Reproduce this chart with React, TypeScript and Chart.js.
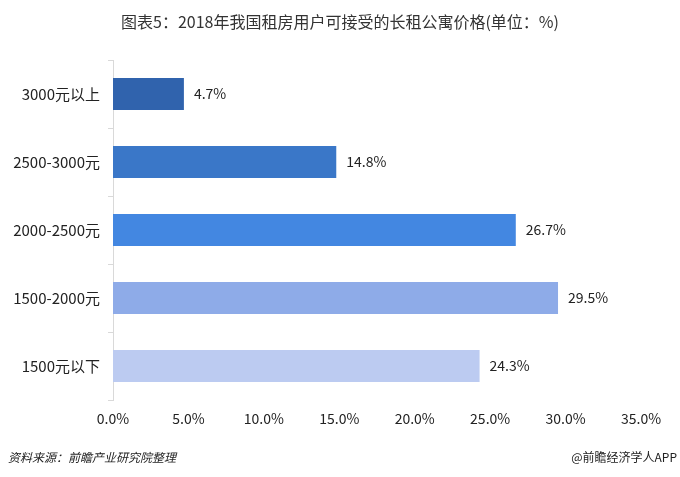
import React, { useEffect, useRef } from "react";
import { Chart, registerables } from "chart.js";

Chart.register(...registerables);

const categories = ["3000元以上", "2500-3000元", "2000-2500元", "1500-2000元", "1500元以下"];
const values = [4.7, 14.8, 26.7, 29.5, 24.3];
const barColors = ["#3063ad", "#3a77c8", "#4387e1", "#8eabe8", "#bccbf1"];
const xTicks = [0, 5, 10, 15, 20, 25, 30, 35];
const titleText = "图表5：2018年我国租房用户可接受的长租公寓价格(单位：%)";
const sourceText = "资料来源：前瞻产业研究院整理";
const brandText = "@前瞻经济学人APP";

const FONT = "'Noto Sans CJK SC', 'Microsoft YaHei', sans-serif";

export default function App() {
  const ref = useRef<HTMLCanvasElement>(null);
  useEffect(() => {
    const canvas = ref.current!;
    const extras = {
      id: "extras",
      afterDatasetsDraw(chart: any) {
        const ctx = chart.ctx;
        const meta = chart.getDatasetMeta(0);
        ctx.save();
        ctx.font = `14px ${FONT}`;
        ctx.fillStyle = "#222";
        ctx.textAlign = "left";
        ctx.textBaseline = "middle";
        meta.data.forEach((bar: any, i: number) => {
          ctx.fillText(values[i].toFixed(1) + "%", bar.x + 10, bar.y);
        });
        ctx.restore();
      },
      afterDraw(chart: any) {
        const ctx = chart.ctx;
        ctx.save();
        ctx.fillStyle = "#333";
        ctx.font = `16px ${FONT}`;
        ctx.textAlign = "center";
        ctx.textBaseline = "middle";
        ctx.fillText(titleText, 340, 22);
        ctx.font = `italic 12px ${FONT}`;
        ctx.textAlign = "left";
        ctx.fillStyle = "#222";
        ctx.fillText(sourceText, 8, 457);
        ctx.font = `12px ${FONT}`;
        ctx.textAlign = "right";
        ctx.fillText(brandText, 677, 457);
        ctx.restore();
      },
    };
    const chart = new Chart(canvas, {
      type: "bar",
      data: {
        labels: categories,
        datasets: [
          {
            data: values,
            backgroundColor: barColors,
            borderWidth: 0,
            barPercentage: 0.47,
            categoryPercentage: 1,
          },
        ],
      },
      options: {
        indexAxis: "y",
        responsive: false,
        animation: false,
        events: [],
        layout: { padding: { top: 60, bottom: 47, left: 0, right: 39 } },
        plugins: { legend: { display: false }, tooltip: { enabled: false }, title: { display: false } },
        scales: {
          x: {
            min: 0,
            max: 35,
            afterBuildTicks: (scale: any) => {
              scale.ticks = xTicks.map((v) => ({ value: v }));
            },
            afterFit: (scale: any) => {
              scale.height = 30;
            },
            grid: { display: false },
            border: { display: false },
            ticks: {
              padding: 2,
              color: "#222",
              font: { family: FONT, size: 14 },
              maxRotation: 0,
              callback: (v: any) => Number(v).toFixed(1) + "%",
            },
          },
          y: {
            afterFit: (scale: any) => {
              scale.width = 113;
            },
            grid: {
              display: true,
              drawOnChartArea: false,
              drawTicks: true,
              tickLength: 5,
              color: "#d9d9d9",
              offset: true,
            },
            border: { display: true, color: "#d9d9d9" },
            ticks: {
              padding: 8,
              color: "#222",
              font: { family: FONT, size: 15 },
            },
          },
        },
      },
      plugins: [extras],
    });
    return () => chart.destroy();
  }, []);
  return (
    <div style={{ position: "fixed", left: 0, top: 0, width: 680, height: 477, background: "#fff" }}>
      <canvas ref={ref} width={680} height={477} style={{ display: "block" }} />
    </div>
  );
}
